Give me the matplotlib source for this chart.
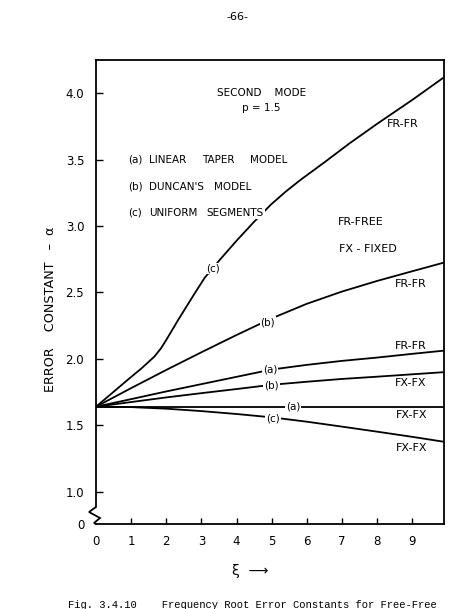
import matplotlib
matplotlib.use("Agg")
import matplotlib.pyplot as plt
from matplotlib.lines import Line2D

# ---------------- data ----------------
xi = [0, 1, 2, 3, 4, 5, 6, 7, 8, 9, 9.9]
xi_c_frfr = [0, 0.5, 0.9, 1.3, 1.66, 1.85, 2.0, 2.33, 2.8, 3.09, 3.52, 4.0, 4.49,
             4.97, 5.4, 5.83, 6.5, 7.2, 8.0, 9.0, 9.9]

c_frfr = [1.64, 1.752, 1.842, 1.93, 2.017, 2.08, 2.143, 2.29, 2.49, 2.61, 2.745, 2.89,
          3.03, 3.16, 3.26, 3.35, 3.48, 3.62, 3.77, 3.95, 4.12]
b_frfr = [1.64, 1.78, 1.917, 2.05, 2.18, 2.305, 2.415, 2.507, 2.587, 2.66, 2.725]
a_frfr = [1.64, 1.697, 1.755, 1.81, 1.865, 1.92, 1.955, 1.985, 2.01, 2.038, 2.062]
b_fxfx = [1.64, 1.675, 1.71, 1.742, 1.773, 1.805, 1.828, 1.849, 1.866, 1.884, 1.90]
a_fxfx = [1.64, 1.64, 1.64, 1.64, 1.64, 1.64, 1.64, 1.64, 1.64, 1.64, 1.64]
c_fxfx = [1.64, 1.637, 1.625, 1.607, 1.585, 1.56, 1.527, 1.49, 1.452, 1.413, 1.376]

x_ticks = [0, 1, 2, 3, 4, 5, 6, 7, 8, 9]
x_ticklabels = ["0", "1", "2", "3", "4", "5", "6", "7", "8", "9"]
y_ticks = [0.757, 1.0, 1.5, 2.0, 2.5, 3.0, 3.5, 4.0]
y_ticklabels = ["0", "1.0", "1.5", "2.0", "2.5", "3.0", "3.5", "4.0"]

# curve labels: (text, x, y)
curve_labels = [("(c)", 3.34, 2.68), ("(b)", 4.89, 2.276), ("(a)", 4.95, 1.917),
                ("(b)", 4.99, 1.797), ("(a)", 5.61, 1.64), ("(c)", 5.04, 1.55)]
end_labels = [("FR-FR", 8.27, 3.77), ("FR-FREE", 6.88, 3.03), ("FX - FIXED", 6.91, 2.83),
              ("FR-FR", 8.51, 2.56), ("FR-FR", 8.51, 2.10), ("FX-FX", 8.51, 1.82),
              ("FX-FX", 8.53, 1.578), ("FX-FX", 8.53, 1.327)]
# legend words: (word, x, y)
legend_words = [("(a)", 0.92, 3.50), ("LINEAR", 1.52, 3.50), ("TAPER", 3.03, 3.50), ("MODEL", 4.37, 3.50),
                ("(b)", 0.92, 3.295), ("DUNCAN'S", 1.52, 3.295), ("MODEL", 3.37, 3.295),
                ("(c)", 0.92, 3.10), ("UNIFORM", 1.52, 3.10), ("SEGMENTS", 3.15, 3.10)]

# ---------------- figure ----------------
plt.rcParams['font.family'] = ['DejaVu Sans']
W, H = 473, 609
fig = plt.figure(figsize=(W / 100, H / 100), dpi=100)
L, R, T, B = 96, 444, 60, 524
ax = fig.add_axes([L / W, (H - B) / H, (R - L) / W, (B - T) / H])
ax.set_xlim(0, 9.9)
ax.set_ylim(0.757, 4.25)

lw = 1.3
for yv, xs in [(c_frfr, xi_c_frfr), (b_frfr, xi), (a_frfr, xi), (b_fxfx, xi),
               (a_fxfx, xi), (c_fxfx, xi)]:
    ax.plot(xs, yv, color="black", lw=lw, solid_capstyle="butt",
            solid_joinstyle="round", zorder=2)

ax.set_xticks(x_ticks)
ax.set_xticklabels(x_ticklabels)
ax.set_yticks(y_ticks)
ax.set_yticklabels(y_ticklabels)
ax.tick_params(axis="x", direction="in", length=4.5, width=1.0, pad=8, labelsize=8.5)
ax.tick_params(axis="y", direction="in", length=5, width=1.0, pad=8.5, labelsize=8.5)
ax.yaxis.get_major_ticks()[0].tick1line.set_visible(False)
ax.xaxis.get_major_ticks()[0].tick1line.set_visible(False)

for s in ["top", "right", "bottom"]:
    ax.spines[s].set_linewidth(1.3)
ax.spines["left"].set_visible(False)

# left spine with axis break zigzag
aw, ah = R - L, B - T
pts_px = [(0, ah), (0, 17), (-7, 12), (4, 6), (-2, 1), (0, 0)]
xs = [p[0] / aw for p in pts_px]
ys = [p[1] / ah for p in pts_px]
ax.add_line(Line2D(xs, ys, transform=ax.transAxes, color="black", lw=1.3,
                   clip_on=False, solid_joinstyle="miter", zorder=5))

# curve labels with white background to break lines
for t, x, y in curve_labels:
    ax.text(x, y, t, ha="center", va="center", fontsize=7.5, zorder=4,
            bbox=dict(facecolor="white", edgecolor="none", pad=0.6))

for t, x, y in end_labels:
    ax.text(x, y, t, ha="left", va="center", fontsize=8, zorder=4)

ax.text(4.71, 4.0, "SECOND    MODE", ha="center", va="center", fontsize=7.5)
ax.text(4.71, 3.89, "p = 1.5", ha="center", va="center", fontsize=7.5)
for t, x, y in legend_words:
    ax.text(x, y, t, ha="left", va="center", fontsize=7.5, zorder=4,
            bbox=dict(facecolor="white", edgecolor="none", pad=1.0))

ax.set_ylabel("ERROR    CONSTANT   –  α", fontsize=9.2)
ax.yaxis.set_label_coords(-(L - 51) / aw, (B - 309) / ah)
ax.set_xlabel("ξ  ⟶", fontsize=10)
ax.xaxis.set_label_coords((250 - L) / aw, -(571 - B) / ah)
ax.xaxis.label.set_va("center")
ax.yaxis.label.set_va("center")

fig.text(237 / W, 1 - 17 / H, "-66-", ha="center", va="center", fontsize=8)
fig.text(68 / W, 1 - 608 / H,
         "Fig. 3.4.10    Frequency Root Error Constants for Free-Free",
         ha="left", va="baseline", fontsize=7.6, family="Liberation Mono")

fig.savefig("out.png", dpi=100)
